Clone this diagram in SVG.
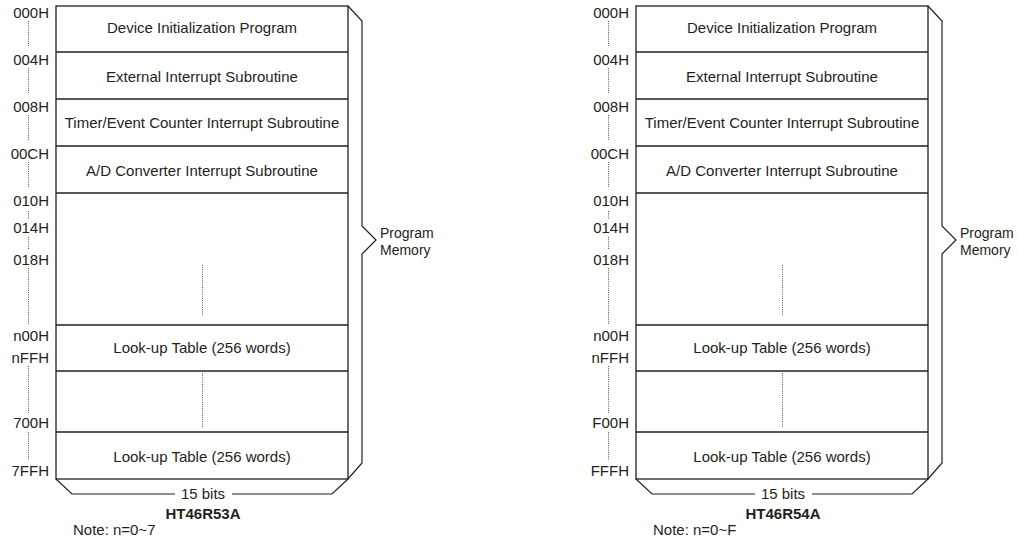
<svg xmlns="http://www.w3.org/2000/svg" width="1018" height="540" viewBox="0 0 1018 540">
<style>
text{font-family:"Liberation Sans",Arial,sans-serif;fill:#231f20}
.lbl{font-size:15px;text-anchor:end}
.row{font-size:15px;text-anchor:middle}
.pm{font-size:14px}
.bits{font-size:15px;text-anchor:middle}
.chip{font-size:15px;font-weight:bold;text-anchor:middle}
.note{font-size:15px}
.box{fill:#fff;stroke:#231f20;stroke-width:1.3}
.ln{fill:none;stroke:#231f20;stroke-width:1.3}
.br{fill:none;stroke:#231f20;stroke-width:1.2;stroke-linejoin:miter}
.dot{fill:none;stroke:#555;stroke-width:1;stroke-dasharray:1 1.2}
</style>
<defs>
<g id="map">
<rect class="box" x="56" y="6" width="292" height="473"/>
<path class="ln" d="M56 52H348M56 99H348M56 146H348M56 193H348M56 325H348M56 371H348M56 432H348"/>
<path class="br" d="M348 6L362 21V226L376 240L362 254V463L348 479"/>
<path class="br" d="M56 479L72 494H175M232 494H332L348 479"/>
<path class="dot" d="M28.5 21V46M28.5 68V93M28.5 115V140M28.5 162V187M28.5 211V219M28.5 237V250M28.5 268V325M28.5 366V413M28.5 432V460M202.5 265V316M202.5 373V427"/>
<text class="row" x="202" y="33">Device Initialization Program</text>
<text class="row" x="202" y="82">External Interrupt Subroutine</text>
<text class="row" x="202" y="128">Timer/Event Counter Interrupt Subroutine</text>
<text class="row" x="202" y="176">A/D Converter Interrupt Subroutine</text>
<text class="row" x="202" y="353">Look-up Table (256 words)</text>
<text class="row" x="202" y="462">Look-up Table (256 words)</text>
<text class="lbl" x="49" y="18">000H</text>
<text class="lbl" x="49" y="65">004H</text>
<text class="lbl" x="49" y="112">008H</text>
<text class="lbl" x="49" y="159">00CH</text>
<text class="lbl" x="49" y="206">010H</text>
<text class="lbl" x="49" y="233">014H</text>
<text class="lbl" x="49" y="265">018H</text>
<text class="lbl" x="49" y="341">n00H</text>
<text class="lbl" x="49" y="363">nFFH</text>
<text class="pm" x="380" y="238">Program</text>
<text class="pm" x="380" y="255">Memory</text>
<text class="bits" x="203" y="499">15 bits</text>
</g>
</defs>
<g id="ht46r53a">
<use href="#map"/>
<text class="lbl" x="49" y="428">700H</text>
<text class="lbl" x="49" y="476">7FFH</text>
<text class="chip" x="203" y="519">HT46R53A</text>
<text class="note" x="73" y="535">Note: n=0~7</text>
</g>
<g id="ht46r54a">
<use href="#map" x="580"/>
<text class="lbl" x="629" y="428">F00H</text>
<text class="lbl" x="629" y="476">FFFH</text>
<text class="chip" x="783" y="519">HT46R54A</text>
<text class="note" x="653" y="535">Note: n=0~F</text>
</g>
</svg>
